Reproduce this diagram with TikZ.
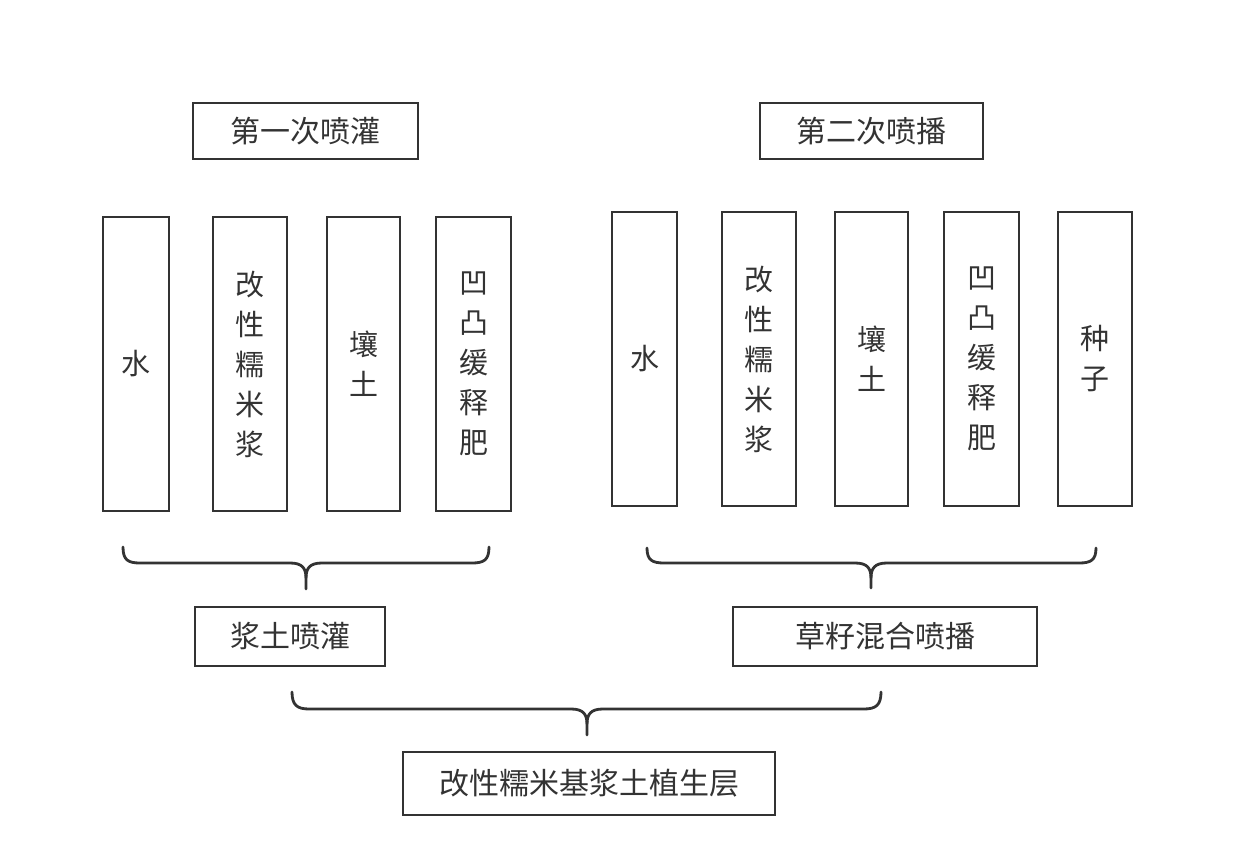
\documentclass[tikz,border=0pt]{standalone}
\usepackage{fontspec}
\setmainfont{Noto Sans CJK SC}
\definecolor{ink}{HTML}{333333}
\begin{document}
\begin{tikzpicture}[x=1pt,y=-1pt,
  box/.style={draw=ink,line width=2.8pt,rectangle,inner sep=0pt,text=ink,font=\fontsize{30}{32}\selectfont},
  col/.style={draw=ink,line width=2.8pt,rectangle,inner sep=0pt,text=ink,align=center,font=\fontsize{29}{40}\selectfont},
  brace/.style={draw=ink,line width=2.8pt,line cap=round,line join=round}]
\useasboundingbox (0,0) rectangle (1235,867);
% top labels
\node[box,minimum width=225pt,minimum height=56pt] (t1) at (305.5,131) {第一次喷灌};
\node[box,minimum width=223pt,minimum height=56pt] (t2) at (871.5,131) {第二次喷播};
% left columns
\node[col,minimum width=66pt,minimum height=294pt] (a1) at (136,364) {水};
\node[col,minimum width=74pt,minimum height=294pt] (a2) at (250,364) {改\\性\\糯\\米\\浆};
\node[col,minimum width=73pt,minimum height=294pt] (a3) at (363.5,364) {壤\\土};
\node[col,minimum width=75pt,minimum height=294pt] (a4) at (473.5,364) {凹\\凸\\缓\\释\\肥};
% right columns
\node[col,minimum width=65pt,minimum height=294pt] (b1) at (644.5,359) {水};
\node[col,minimum width=74pt,minimum height=294pt] (b2) at (759,359) {改\\性\\糯\\米\\浆};
\node[col,minimum width=73pt,minimum height=294pt] (b3) at (871.5,359) {壤\\土};
\node[col,minimum width=75pt,minimum height=294pt] (b4) at (981.5,359) {凹\\凸\\缓\\释\\肥};
\node[col,minimum width=74pt,minimum height=294pt] (b5) at (1095,359) {种\\子};
% middle
\node[box,minimum width=190pt,minimum height=59pt] (m1) at (290,636.5) {浆土喷灌};
\node[box,minimum width=304pt,minimum height=59pt] (m2) at (885,636.5) {草籽混合喷播};
% bottom
\node[box,minimum width=372pt,minimum height=63pt] (r) at (589,783.5) {改性糯米基浆土植生层};
% braces
\draw[brace] (123,547) .. controls (123,560) and (128,563) .. (140,563) -- (290,563)
  .. controls (302,563) and (306,568) .. (306,578) -- (306,589);
\draw[brace] (306,578) .. controls (306,568) and (310,563) .. (322,563) -- (472,563)
  .. controls (484,563) and (489,560) .. (489,547);
\draw[brace] (647,548) .. controls (647,560) and (652,563) .. (664,563) -- (855,563)
  .. controls (867,563) and (871,568) .. (871,578) -- (871,588);
\draw[brace] (871,578) .. controls (871,568) and (875,563) .. (887,563) -- (1079,563)
  .. controls (1091,563) and (1096,560) .. (1096,548);
\draw[brace] (292,692) .. controls (292,705) and (297,709) .. (309,709) -- (571,709)
  .. controls (583,709) and (587,714) .. (587,724) -- (587,735);
\draw[brace] (587,724) .. controls (587,714) and (591,709) .. (603,709) -- (864,709)
  .. controls (876,709) and (881,705) .. (881,692);
\end{tikzpicture}
\end{document}
